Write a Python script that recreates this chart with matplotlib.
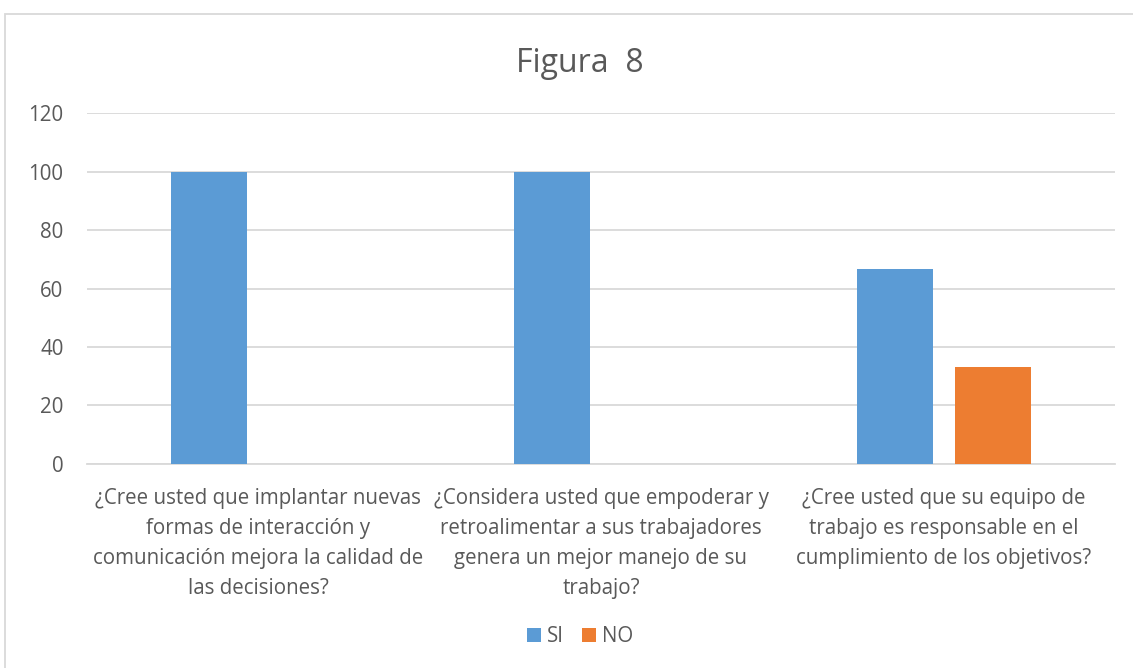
import matplotlib.pyplot as plt
import numpy as np
from matplotlib.patches import Rectangle

plt.rcParams['font.family'] = ['Open Sans', 'DejaVu Sans']

categories = [
    "¿Cree usted que implantar nuevas\nformas de interacción y\ncomunicación mejora la calidad de\nlas decisiones?",
    "¿Considera usted que empoderar y\nretroalimentar a sus trabajadores\ngenera un mejor manejo de su\ntrabajo?",
    "¿Cree usted que su equipo de\ntrabajo es responsable en el\ncumplimiento de los objetivos?",
]
si_values = [100, 100, 66.67]
no_values = [0, 0, 33.33]
series_names = ["SI", "NO"]

text_color = '#595959'
grid_color = '#D9D9D9'
fs = 14.8

fig = plt.figure(figsize=(11.33, 6.68), dpi=100)
ax = fig.add_axes([0.0768, 0.3054, 0.9072, 0.5254])

x = np.arange(len(categories))
width = 0.222
offset = 0.143
ax.bar(x - offset, si_values, width, color='#5B9BD5', label=series_names[0], zorder=3)
ax.bar(x + offset, no_values, width, color='#ED7D31', label=series_names[1], zorder=3)

ax.set_xlim(-0.5, len(categories) - 0.5)
ax.set_ylim(0, 120)
ax.set_yticks(range(0, 121, 20))
ax.yaxis.grid(True, color=grid_color, linewidth=1.3, zorder=0)
ax.set_axisbelow(True)
for s in ['top', 'right', 'left']:
    ax.spines[s].set_visible(False)
ax.spines['bottom'].set_color(grid_color)
ax.spines['bottom'].set_linewidth(1.3)
ax.tick_params(axis='both', length=0, colors=text_color, labelsize=fs)
ax.tick_params(axis='y', pad=17)
ax.set_xticks(x)
ax.set_xticklabels(categories, linespacing=1.55)
ax.tick_params(axis='x', pad=17.5)

fig.text(0.512, 0.905, "Figura  8", ha='center', va='center', fontsize=23, color=text_color)

leg = fig.legend(loc='center', bbox_to_anchor=(0.512, 0.047), ncol=2, frameon=False,
                 fontsize=fs, handlelength=0.65, handleheight=0.65, handletextpad=0.3,
                 columnspacing=0.9)
for t in leg.get_texts():
    t.set_color(text_color)

# chart area border
fig.patches.append(Rectangle((5 / 1133, -0.1), 1.2, 1 - 14 / 668 + 0.1,
                             transform=fig.transFigure, fill=False,
                             edgecolor=grid_color, linewidth=1.3))

fig.savefig('out.png', dpi=100)
